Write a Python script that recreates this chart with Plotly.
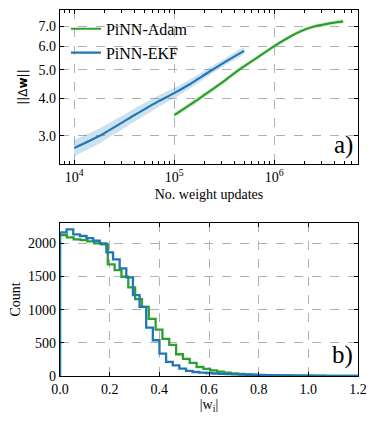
import numpy as np
import plotly.graph_objects as go

# panel a) - norm of weight change vs number of updates
ekf_x = [1e4, 1.8e4, 3.9e4, 7e4, 1e5, 1.4e5, 2.24e5, 3.3e5, 5e5]
ekf_y = [2.73, 3.0, 3.5, 3.92, 4.17, 4.45, 4.92, 5.33, 5.78]
ekf_lo = [2.56, 2.83, 3.33, 3.75, 4.01, 4.30, 4.78, 5.19, 5.64]
ekf_hi = [2.91, 3.18, 3.68, 4.10, 4.34, 4.61, 5.07, 5.48, 5.93]

adam_x = [1e5, 1.78e5, 3e5, 4.47e5, 7e5, 1e6, 1.5e6, 1.82e6, 2.5e6, 3.2e6, 4e6, 4.9e6]
adam_y = [3.52, 4.0, 4.52, 5.0, 5.53, 6.0, 6.5, 6.72, 6.98, 7.1, 7.19, 7.26]
adam_lo = [3.45, 3.92, 4.44, 4.91, 5.44, 5.90, 6.40, 6.62, 6.88, 7.00, 7.08, 7.15]
adam_hi = [3.59, 4.08, 4.60, 5.09, 5.62, 6.10, 6.60, 6.82, 7.08, 7.20, 7.30, 7.37]

# panel b) - histograms of |w_i|
adam_bin_w = 0.0275
adam_counts = [2127, 2092, 2060, 2051, 2031, 2000, 1986, 1683, 1598, 1497,
               1336, 1159, 1043, 862, 700, 559, 469, 328, 257, 197,
               136, 106, 86, 66, 50, 40, 30, 25, 20, 16,
               13, 10, 8, 7, 6, 5, 4, 3, 3, 2, 2, 1, 1, 1, 1]
ekf_bin_w = 0.0267
ekf_counts = [2167, 2213, 2137, 2112, 2080, 2040, 2000, 1865, 1759, 1623,
              1487, 1220, 1043, 731, 539, 338, 212, 161, 111, 76,
              60, 50, 45, 38, 32, 28, 25, 22, 19, 16,
              14, 12, 10, 9, 8, 7, 6, 5, 4, 4, 3, 2, 2, 2, 1, 1, 1, 1]

GREEN = "#2ca02c"
BLUE = "#1f77b4"
FONT = "Liberation Serif"


def step_xy(counts, width):
    edges = np.arange(len(counts) + 1) * width
    x = [0.0] + list(edges)
    y = [0] + list(counts) + [counts[-1]]
    x.append(edges[-1])
    y.append(0)
    return x, y


fig = go.Figure()

# bands
fig.add_trace(go.Scatter(x=adam_x + adam_x[::-1], y=adam_hi + adam_lo[::-1], fill="toself",
                         mode="lines", fillcolor="rgba(44,160,44,0.2)",
                         line=dict(width=0, shape="spline", smoothing=0.6),
                         showlegend=False, hoverinfo="skip", xaxis="x", yaxis="y"))
fig.add_trace(go.Scatter(x=ekf_x + ekf_x[::-1], y=ekf_hi + ekf_lo[::-1], fill="toself",
                         mode="lines", fillcolor="rgba(31,119,180,0.22)",
                         line=dict(width=0, shape="spline", smoothing=0.6),
                         showlegend=False, hoverinfo="skip", xaxis="x", yaxis="y"))
fig.add_trace(go.Scatter(x=adam_x, y=adam_y, mode="lines", name="PiNN-Adam",
                         line=dict(color=GREEN, width=2.2, shape="spline", smoothing=0.6),
                         xaxis="x", yaxis="y"))
fig.add_trace(go.Scatter(x=ekf_x, y=ekf_y, mode="lines", name="PiNN-EKF",
                         line=dict(color=BLUE, width=2.2, shape="spline", smoothing=0.6),
                         xaxis="x", yaxis="y"))

# histograms
hx, hy = step_xy(adam_counts, adam_bin_w)
fig.add_trace(go.Scatter(x=hx, y=hy, mode="lines", line=dict(color=GREEN, width=2.3, shape="hv"),
                         showlegend=False, xaxis="x2", yaxis="y2"))
hx, hy = step_xy(ekf_counts, ekf_bin_w)
fig.add_trace(go.Scatter(x=hx, y=hy, mode="lines", line=dict(color=BLUE, width=2.3, shape="hv"),
                         showlegend=False, xaxis="x2", yaxis="y2"))

axis_common = dict(showline=True, linecolor="black", linewidth=1.2, mirror="allticks",
                   ticks="inside", ticklen=4, tickcolor="black", showgrid=True,
                   gridcolor="#b0b0b0", griddash="dash", gridwidth=1, zeroline=False,
                   automargin=False,
                   tickfont=dict(family=FONT, size=14, color="black"))

minor_x = [m * 10 ** d for d in range(3, 7) for m in range(2, 10)]

fig.update_layout(
    template="none",
    width=368, height=415,
    margin=dict(l=52, r=18, t=2, b=47),
    plot_bgcolor="white", paper_bgcolor="white",
    font=dict(family=FONT, size=14, color="black"),
    xaxis=dict(axis_common, type="log", domain=[0, 1], anchor="y",
               range=[np.log10(7.2e3), np.log10(6.9e6)],
               tickvals=[1e4, 1e5, 1e6],
               ticktext=["10<sup>4</sup>", "10<sup>5</sup>", "10<sup>6</sup>"],
               minor=dict(ticks="inside", ticklen=2.5, tickcolor="black",
                          tickmode="array", tickvals=minor_x, showgrid=False),
               title=dict(text="No. weight updates", font=dict(family=FONT, size=14), standoff=5)),
    yaxis=dict(axis_common, type="log", domain=[0.579, 1.0], anchor="x",
               range=[np.log10(2.41), np.log10(7.93)],
               tickvals=[3, 4, 5, 6, 7], ticktext=["3.0", "4.0", "5.0", "6.0", "7.0"],
               title=dict(text="||Δ<b>w</b>||", font=dict(family="DejaVu Sans", size=12), standoff=8)),
    xaxis2=dict(axis_common, domain=[0, 1], anchor="y2", range=[0, 1.2],
                tickvals=[0, 0.2, 0.4, 0.6, 0.8, 1.0, 1.2],
                ticktext=["0.0", "0.2", "0.4", "0.6", "0.8", "1.0", "1.2"],
                title=dict(text="|w<sub>i</sub>|", font=dict(family=FONT, size=14), standoff=3)),
    yaxis2=dict(axis_common, domain=[0, 0.418], anchor="x2", range=[0, 2308],
                tickvals=[0, 500, 1000, 1500, 2000],
                title=dict(text="Count", font=dict(family=FONT, size=14), standoff=5)),
    legend=dict(x=0.02, y=0.995, xanchor="left", yanchor="top", bgcolor="rgba(0,0,0,0)",
                font=dict(family=FONT, size=16), tracegroupgap=0),
    annotations=[
        dict(text="a)", xref="x domain", yref="y domain", x=0.99, y=0.02,
             xanchor="right", yanchor="bottom", showarrow=False,
             font=dict(family=FONT, size=25, color="black")),
        dict(text="b)", xref="x2 domain", yref="y2 domain", x=0.99, y=0.03,
             xanchor="right", yanchor="bottom", showarrow=False,
             font=dict(family=FONT, size=25, color="black")),
    ],
)

fig.write_html("out.html")
